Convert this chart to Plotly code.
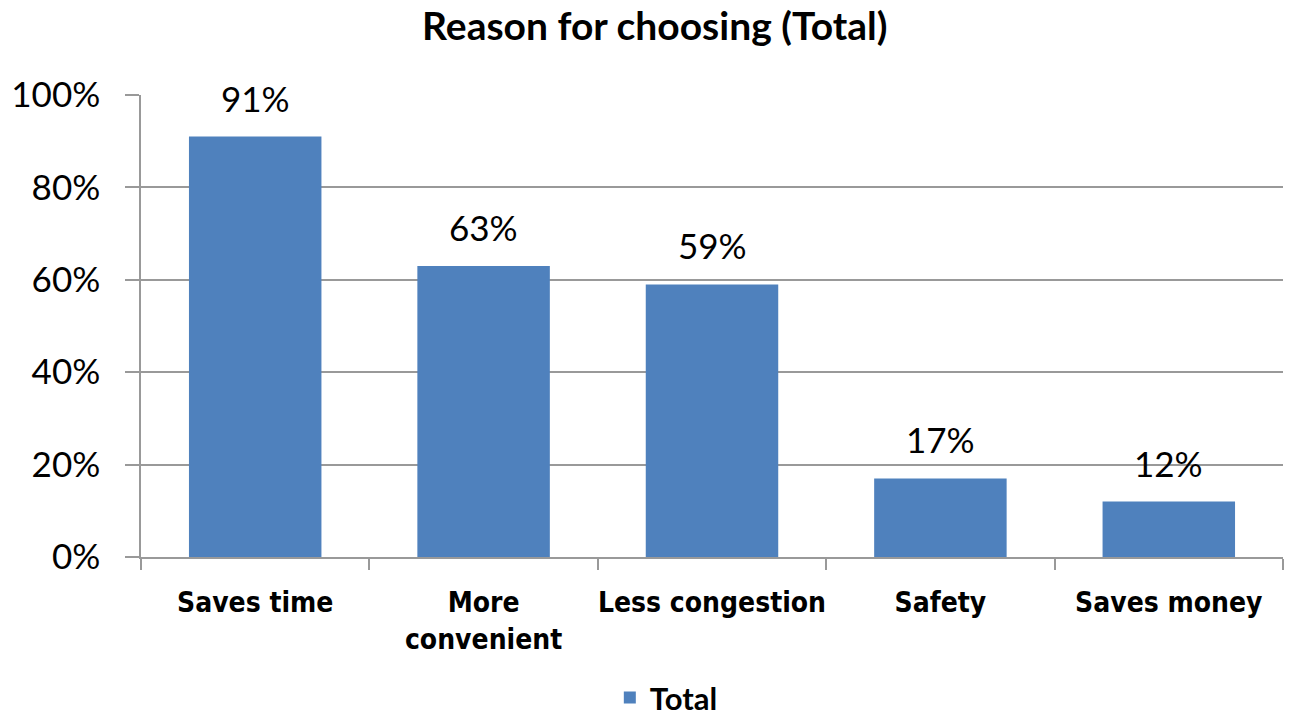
import plotly.graph_objects as go

# Survey results: share of respondents naming each reason
categories = ["Saves time", "More convenient", "Less congestion", "Safety", "Saves money"]
tick_text = ["Saves time", "More<br>convenient", "Less congestion", "Safety", "Saves money"]
values = [91, 63, 59, 17, 12]
series_name = "Total"
y_ticks = [0, 20, 40, 60, 80, 100]
y_tick_labels = ["0%", "20%", "40%", "60%", "80%", "100%"]

bar_color = "#4F81BD"
grid_color = "#999999"
label_font = "Lato, Calibri, Carlito, sans-serif"
cat_font = "DejaVu Sans Condensed, Liberation Sans Narrow, sans-serif"

fig = go.Figure()
fig.add_trace(go.Bar(
    x=categories,
    y=values,
    name=f"<b>{series_name}</b>",
    marker=dict(color=bar_color, line=dict(width=0)),
    showlegend=True,
))

# Value labels above each bar
for cat, val in zip(categories, values):
    fig.add_annotation(
        x=cat, y=val, text=f"{val}%",
        showarrow=False, yanchor="bottom", yshift=16,
        font=dict(family=label_font, size=35, color="#000000"),
    )

fig.update_layout(
    width=1299, height=721,
    margin=dict(l=141, r=16, t=95, b=164, autoexpand=False),
    paper_bgcolor="white", plot_bgcolor="white",
    bargap=0.42,
    title=dict(
        text="<b>Reason for choosing (Total)</b>",
        x=0.504, xanchor="center", y=0.963, yanchor="middle",
        font=dict(family=label_font, size=39, color="#000000"),
    ),
    legend=dict(
        orientation="h", x=0.46, xanchor="center", y=-0.305, yanchor="middle",
        font=dict(family=label_font, size=31, color="#000000"),
    ),
    showlegend=True,
)

fig.update_xaxes(
    tickmode="array", tickvals=categories, ticktext=[f"<b>{t}</b>" for t in tick_text],
    tickangle=0, automargin=False,
    tickson="boundaries", ticks="outside", ticklen=11, tickcolor=grid_color, tickwidth=1.5,
    showline=True, linecolor=grid_color, linewidth=1.5,
    showgrid=False,
    tickfont=dict(family=cat_font, size=28, color="#000000"),
    ticklabelstandoff=20,
)
fig.update_yaxes(
    range=[0, 100], tickmode="array", tickvals=y_ticks, ticktext=y_tick_labels,
    automargin=False,
    ticks="outside", ticklen=14, tickcolor=grid_color, tickwidth=1.5,
    showline=True, linecolor=grid_color, linewidth=1.5,
    showgrid=True, gridcolor=grid_color, gridwidth=1.5,
    zeroline=False,
    tickfont=dict(family=label_font, size=35, color="#000000"),
    ticklabelstandoff=18,
)

fig.write_html("out.html")
